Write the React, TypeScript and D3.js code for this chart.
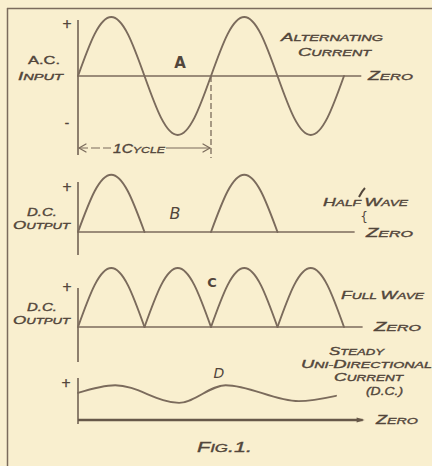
import React from "react";
import * as d3 from "d3";

// phase in cycles, values as fraction of peak
const acPhase = [0, 0.125, 0.25, 0.375, 0.5, 0.625, 0.75, 0.875, 1, 1.125, 1.25, 1.375, 1.5, 1.625, 1.75, 1.875, 2];
const acValues = [0, 0.71, 1, 0.71, 0, -0.71, -1, -0.71, 0, 0.71, 1, 0.71, 0, -0.71, -1, -0.71, 0];
const halfWaveValues = [0, 0.69, 0.97, 0.69, 0, null, null, null, 0, 0.69, 0.97, 0.69, 0, null, null, null, 0];
const fullWaveValues = [0, 0.71, 1, 0.71, 0, 0.71, 1, 0.71, 0, 0.71, 1, 0.71, 0, 0.71, 1, 0.71, 0];
const dcPhase = [0, 0.28, 0.76, 1.11, 1.66, 1.94];
const dcValues = [0.46, 0.59, 0.29, 0.59, 0.32, 0.41];

const BG = "#f9efcf";
const LINE = "#7b6b5c";
const TEXT = "#52463b";

const x = d3.scaleLinear().domain([0, 2]).range([78, 344]);
const yA = d3.scaleLinear().domain([-1, 1]).range([76 + 59, 76 - 59]);
const yB = d3.scaleLinear().domain([-1, 1]).range([232 + 59, 232 - 59]);
const yC = d3.scaleLinear().domain([-1, 1]).range([327 + 59, 327 - 59]);
const yD = d3.scaleLinear().domain([-1, 1]).range([420 + 59, 420 - 59]);

function humps(values: (number | null)[], y: d3.ScaleLinear<number, number>) {
  const segs: string[] = [];
  const gen = d3.line<number>().x((i) => x(acPhase[i])).y((i) => y(values[i] as number)).curve(d3.curveNatural);
  for (let k = 0; k < 4; k++) {
    const idx = [0, 1, 2, 3, 4].map((j) => 4 * k + j);
    if (idx.some((i) => values[i] === null)) continue;
    segs.push(gen(idx) as string);
  }
  return segs;
}

function SC({ t, x: tx, y: ty, big, small, w, italic = true, weight = "normal" }: any) {
  const chars = t.split("");
  const segs: { s: string; b: boolean }[] = [];
  chars.forEach((c: string, i: number) => {
    const prev = i === 0 ? " " : chars[i - 1];
    const b = " -(.0123456789".includes(prev) || c === "(" || c === ")" || c === ".";
    if (segs.length && segs[segs.length - 1].b === b) segs[segs.length - 1].s += c;
    else segs.push({ s: c, b });
  });
  return (
    <text
      x={tx}
      y={ty}
      fill={TEXT}
      stroke={TEXT}
      strokeWidth={0.35}
      fontFamily="'Liberation Sans', 'DejaVu Sans', sans-serif"
      fontStyle={italic ? "italic" : "normal"}
      fontWeight={weight}
      textLength={w}
      lengthAdjust="spacingAndGlyphs"
    >
      {segs.map((s, i) => (
        <tspan key={i} fontSize={s.b ? big : small}>
          {s.s}
        </tspan>
      ))}
    </text>
  );
}

export default function App() {
  const lineA = d3.line<number>().x((i) => x(acPhase[i])).y((i) => yA(acValues[i])).curve(d3.curveNatural)(acPhase.map((_, i) => i)) as string;
  const bSegs = humps(halfWaveValues, yB);
  const cSegs = humps(fullWaveValues, yC);
  const lineD = d3.line<number>().x((i) => x(dcPhase[i])).y((i) => yD(dcValues[i])).curve(d3.curveMonotoneX)(dcPhase.map((_, i) => i)) as string;

  const stroke = { stroke: LINE, strokeWidth: 1.9, fill: "none", strokeLinecap: "round" as const };
  const axis = { stroke: LINE, strokeWidth: 1.7 };
  const tickTxt = { fill: TEXT, stroke: TEXT, strokeWidth: 0.4, fontFamily: "'DejaVu Sans', sans-serif", fontSize: 12, textAnchor: "middle" as const };

  return (
    <svg width={432} height={466} style={{ position: "fixed", left: 0, top: 0, background: BG }}>
      <rect x={0} y={0} width={432} height={466} fill={BG} />
      {/* frame */}
      <line x1={7.5} y1={8} x2={7.5} y2={466} stroke={LINE} strokeWidth={1.5} />
      <line x1={7} y1={8.5} x2={432} y2={8.5} stroke={LINE} strokeWidth={1.5} />

      {/* Panel A */}
      <line x1={x(0)} y1={20} x2={x(0)} y2={155} {...axis} />
      <line x1={x(0)} y1={yA(0)} x2={x(2.13)} y2={yA(0)} {...axis} />
      <path d={lineA} {...stroke} />
      <text x={67} y={28} {...tickTxt}>+</text>
      <text x={67} y={127} {...tickTxt}>-</text>
      <SC t="A.C." x={28} y={64} big={11} small={11} w={32} italic={false} />
      <SC t="INPUT" x={18} y={80} big={11} small={8.5} w={45} />
      <text x={180} y={68} fill={TEXT} fontFamily="'DejaVu Sans', sans-serif" fontWeight="bold" fontSize={15} textAnchor="middle">A</text>
      <SC t="ALTERNATING" x={281} y={41} big={11} small={8.5} w={102} />
      <SC t="CURRENT" x={298} y={56} big={11} small={8.5} w={73} />
      <SC t="ZERO" x={368} y={80} big={12} small={9.5} w={45} />
      {/* 1 cycle */}
      <line x1={x(1)} y1={yA(0)} x2={x(1)} y2={158} stroke={LINE} strokeWidth={1.3} strokeDasharray="6 3" />
      <line x1={x(0) + 1} y1={148} x2={111} y2={148} stroke={LINE} strokeWidth={1.2} strokeDasharray="9 3" />
      <line x1={166} y1={148} x2={x(1) - 1} y2={148} stroke={LINE} strokeWidth={1.2} />
      <path d={`M${x(0) + 8},144 L${x(0) + 1},148 L${x(0) + 8},152`} {...stroke} strokeWidth={1.2} />
      <path d={`M${x(1) - 8},144 L${x(1) - 1},148 L${x(1) - 8},152`} {...stroke} strokeWidth={1.2} />
      <SC t="1CYCLE" x={113} y={153} big={12} small={9.5} w={52} />

      {/* Panel B */}
      <line x1={x(0)} y1={182} x2={x(0)} y2={255} {...axis} />
      <line x1={x(0)} y1={yB(0)} x2={x(2.08)} y2={yB(0)} {...axis} />
      {bSegs.map((d, i) => (
        <path key={i} d={d} {...stroke} />
      ))}
      <text x={67} y={191} {...tickTxt}>+</text>
      <text x={175} y={219} fill={TEXT} fontFamily="'DejaVu Sans', sans-serif" fontStyle="italic" fontSize={16} textAnchor="middle">B</text>
      <SC t="D.C." x={27} y={216} big={11} small={11} w={30} />
      <SC t="OUTPUT" x={13} y={229} big={11} small={8.5} w={57} />
      <SC t="HALF WAVE" x={323} y={206} big={11} small={8.5} w={85} />
      <text x={364} y={221} fill={TEXT} fontFamily="'DejaVu Sans', sans-serif" fontSize={12} textAnchor="middle">{"{"}</text>
      <path d="M359,197 q3,-6 6,-9" stroke={TEXT} strokeWidth={2} fill="none" />
      <SC t="ZERO" x={366} y={237} big={12} small={9.5} w={47} />

      {/* Panel C */}
      <line x1={x(0)} y1={288} x2={x(0)} y2={362} {...axis} />
      <line x1={x(0)} y1={yC(0)} x2={x(2.14)} y2={yC(0)} {...axis} />
      {cSegs.map((d, i) => (
        <path key={i} d={d} {...stroke} />
      ))}
      <text x={67} y={291} {...tickTxt}>+</text>
      <text x={212} y={287} fill={TEXT} fontFamily="'DejaVu Sans', sans-serif" fontWeight="bold" fontSize={13} textAnchor="middle">C</text>
      <SC t="D.C." x={27} y={311} big={11} small={11} w={30} />
      <SC t="OUTPUT" x={13} y={324} big={11} small={8.5} w={57} />
      <SC t="FULL WAVE" x={341} y={299} big={11} small={8.5} w={83} />
      <SC t="ZERO" x={374} y={331} big={12} small={9.5} w={47} />

      {/* Panel D */}
      <line x1={x(0)} y1={378} x2={x(0)} y2={424} {...axis} />
      <line x1={x(0)} y1={yD(0)} x2={x(2.14)} y2={yD(0)} stroke="#675849" strokeWidth={2.3} />
      <path d={`M${x(2.14) - 6},417.5 L${x(2.14) + 2},420 L${x(2.14) - 6},422.5`} fill="#675849" />
      <path d={lineD} {...stroke} />
      <text x={66} y={387} {...tickTxt}>+</text>
      <text x={219} y={378} fill={TEXT} fontFamily="'DejaVu Sans', sans-serif" fontStyle="italic" fontSize={14} textAnchor="middle">D</text>
      <SC t="STEADY" x={329} y={355} big={11} small={8.5} w={55} />
      <SC t="UNI-DIRECTIONAL" x={301} y={368} big={11} small={8.5} w={131} />
      <SC t="CURRENT" x={334} y={381} big={11} small={8.5} w={69} />
      <SC t="(D.C.)" x={366} y={395} big={11} small={11} w={37} />
      <SC t="ZERO" x={376} y={424} big={12} small={9.5} w={42} />

      <SC t="FIG.1." x={197} y={452} big={14} small={11} w={55} />
    </svg>
  );
}
